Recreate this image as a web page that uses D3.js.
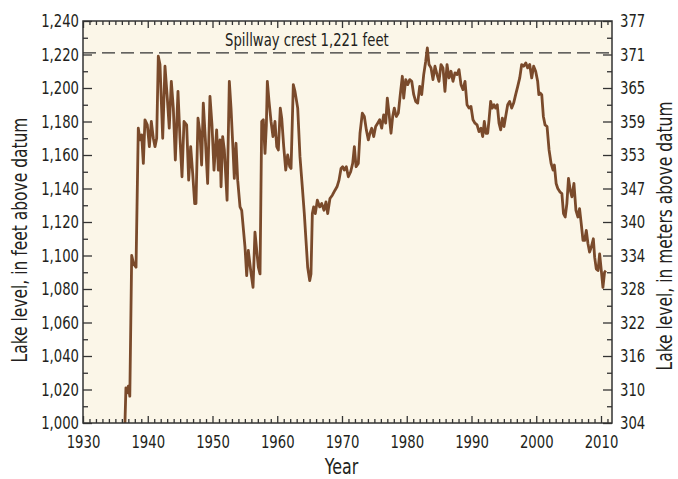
<!DOCTYPE html>
<html>
<head>
<meta charset="utf-8">
<script src="https://cdn.jsdelivr.net/npm/d3@7"></script>
<style>
  body { margin: 0; background: #fff; }
  svg text { font-family: "Liberation Sans Narrow", "DejaVu Sans Condensed", "DejaVu Sans", sans-serif; fill: #231f20; }
</style>
</head>
<body>
<svg id="chart" width="678" height="479"></svg>
<script>
// lake level readings, [year, feet above datum]
const lakeLevel = [
  [1936.48,1000],[1936.63,1021],[1936.83,1018],[1937.0,1022],[1937.23,1016],[1937.52,1100],[1937.82,1095],
  [1938.19,1093],[1938.54,1176],[1938.8,1169],[1939.06,1172],[1939.32,1155],[1939.57,1181],[1939.93,1178],
  [1940.25,1165],[1940.55,1180],[1940.86,1170],[1941.12,1165],[1941.38,1170],[1941.63,1219],[1941.89,1214],
  [1942.31,1170],[1942.66,1213],[1943.02,1194],[1943.32,1176],[1943.64,1204],[1943.95,1188],[1944.26,1157],
  [1944.67,1198],[1944.98,1170],[1945.29,1147],[1945.6,1180],[1946.01,1178],[1946.32,1145],[1946.63,1165],
  [1946.94,1149],[1947.25,1131],[1947.45,1131],[1947.76,1182],[1948.07,1173],[1948.32,1154],[1948.58,1191],
  [1948.89,1170],[1949.25,1143],[1949.61,1195],[1949.92,1178],[1950.23,1151],[1950.64,1175],[1950.9,1151],
  [1951.16,1169],[1951.32,1141],[1951.57,1171],[1951.83,1163],[1952.25,1133],[1952.6,1204],[1952.86,1188],
  [1953.17,1163],[1953.37,1146],[1953.63,1167],[1953.89,1145],[1954.25,1129],[1954.51,1127],[1955.02,1105],
  [1955.28,1088],[1955.53,1103],[1955.9,1091],[1956.26,1081],[1956.56,1114],[1956.83,1103],[1957.08,1093],
  [1957.34,1089],[1957.6,1180],[1957.85,1181],[1958.11,1161],[1958.32,1178],[1958.47,1204],[1958.73,1192],
  [1959.04,1180],[1959.34,1171],[1959.65,1180],[1959.92,1165],[1960.17,1163],[1960.47,1188],[1960.69,1182],
  [1961.0,1165],[1961.31,1151],[1961.61,1160],[1961.93,1153],[1962.13,1152],[1962.48,1202],[1962.74,1198],
  [1963.16,1188],[1963.51,1159],[1963.87,1141],[1964.18,1125],[1964.44,1109],[1964.7,1093],[1965.01,1085],
  [1965.21,1089],[1965.42,1125],[1965.62,1129],[1965.88,1125],[1966.19,1133],[1966.56,1129],[1966.87,1131],
  [1967.22,1127],[1967.53,1132],[1967.79,1125],[1968.14,1134],[1968.51,1136],[1968.92,1139],[1969.23,1141],
  [1969.54,1145],[1969.85,1152],[1970.1,1153],[1970.36,1151],[1970.67,1153],[1970.98,1147],[1971.34,1150],
  [1971.65,1155],[1971.91,1165],[1972.17,1153],[1972.52,1155],[1972.78,1173],[1973.14,1185],[1973.45,1183],
  [1973.76,1175],[1974.07,1169],[1974.32,1173],[1974.59,1176],[1974.9,1171],[1975.2,1177],[1975.51,1179],
  [1975.82,1181],[1976.13,1176],[1976.44,1184],[1976.75,1179],[1977.0,1194],[1977.26,1185],[1977.57,1173],
  [1977.83,1183],[1978.08,1188],[1978.39,1183],[1978.7,1185],[1979.0,1196],[1979.32,1207],[1979.53,1194],
  [1979.84,1205],[1980.15,1202],[1980.46,1205],[1980.77,1204],[1981.08,1196],[1981.38,1192],[1981.69,1191],
  [1982.0,1201],[1982.31,1196],[1982.62,1208],[1982.93,1216],[1983.18,1224],[1983.44,1214],[1983.75,1212],
  [1984.05,1205],[1984.36,1213],[1984.68,1208],[1984.98,1204],[1985.29,1214],[1985.6,1212],[1985.9,1198],
  [1986.22,1214],[1986.53,1206],[1986.84,1210],[1987.14,1204],[1987.45,1209],[1987.77,1208],[1988.07,1211],
  [1988.38,1202],[1988.69,1199],[1989.0,1204],[1989.31,1190],[1989.62,1188],[1989.92,1189],[1990.23,1181],
  [1990.54,1179],[1990.86,1178],[1991.16,1174],[1991.47,1176],[1991.73,1171],[1991.98,1180],[1992.24,1173],
  [1992.5,1173],[1992.71,1181],[1992.96,1192],[1993.21,1188],[1993.48,1190],[1993.73,1188],[1993.98,1190],
  [1994.25,1179],[1994.51,1175],[1994.76,1182],[1995.02,1177],[1995.28,1183],[1995.59,1190],[1995.89,1192],
  [1996.21,1188],[1996.51,1191],[1996.82,1196],[1997.14,1201],[1997.45,1206],[1997.75,1214],[1998.06,1213],
  [1998.38,1215],[1998.68,1212],[1998.99,1214],[1999.3,1206],[1999.6,1213],[1999.91,1210],[2000.22,1204],
  [2000.4,1196],[2000.6,1197],[2000.85,1196],[2001.1,1183],[2001.36,1178],[2001.67,1177],[2001.98,1163],
  [2002.29,1155],[2002.6,1151],[2002.8,1154],[2003.07,1143],[2003.33,1140],[2003.65,1138],[2003.96,1137],
  [2004.21,1125],[2004.47,1123],[2004.73,1131],[2004.98,1146],[2005.25,1139],[2005.51,1135],[2005.82,1143],
  [2006.13,1127],[2006.44,1123],[2006.69,1128],[2006.95,1119],[2007.22,1109],[2007.47,1109],[2007.73,1115],
  [2007.99,1107],[2008.24,1102],[2008.5,1105],[2008.82,1110],[2009.02,1099],[2009.27,1092],[2009.54,1091],
  [2009.79,1101],[2010.05,1091],[2010.3,1081],[2010.55,1090],[2010.75,1091]
];

const spillwayFeet = 1221;
const yearTicks = [1930, 1940, 1950, 1960, 1970, 1980, 1990, 2000, 2010];
const feetTicks = [1000, 1020, 1040, 1060, 1080, 1100, 1120, 1140, 1160, 1180, 1200, 1220, 1240];
const meterLabels = ["304", "310", "316", "322", "328", "334", "340", "347", "353", "359", "365", "371", "377"];

const plotLeft = 83, plotRight = 612, plotTop = 21, plotBottom = 423;

const svg = d3.select("#chart");

const x = d3.scaleLinear().domain([1930, 2011.7]).range([plotLeft, plotRight]);
const y = d3.scaleLinear().domain([1000, 1240]).range([plotBottom, plotTop]);

svg.append("rect")
  .attr("x", plotLeft).attr("y", plotTop)
  .attr("width", plotRight - plotLeft).attr("height", plotBottom - plotTop)
  .attr("fill", "#fbf6e8");

// minor ticks, every year / every 10 feet
const minorYears = d3.range(1930, 2012).filter(d => d % 10 != 0);
const minorFeet = d3.range(1010, 1240, 20);

function styleAxis(g) {
  g.select(".domain").remove();
  g.selectAll("line").attr("stroke", "#333").attr("stroke-width", 1.3);
  g.selectAll("text").attr("font-size", 17.5).attr("fill", "#231f20");
  return g;
}

svg.append("g").attr("transform", `translate(0,${plotBottom})`)
  .call(d3.axisBottom(x).tickValues(minorYears).tickSize(-4).tickFormat(""))
  .call(styleAxis);
svg.append("g").attr("transform", `translate(0,${plotBottom})`)
  .call(d3.axisBottom(x).tickValues(yearTicks).tickSize(-7).tickPadding(13).tickFormat(d3.format("d")))
  .call(styleAxis);

svg.append("g").attr("transform", `translate(0,${plotTop})`)
  .call(d3.axisTop(x).tickValues(minorYears).tickSize(-4).tickFormat(""))
  .call(styleAxis);
svg.append("g").attr("transform", `translate(0,${plotTop})`)
  .call(d3.axisTop(x).tickValues(yearTicks).tickSize(-7).tickFormat(""))
  .call(styleAxis);

svg.append("g").attr("transform", `translate(${plotLeft},0)`)
  .call(d3.axisLeft(y).tickValues(minorFeet).tickSize(-5).tickFormat(""))
  .call(styleAxis);
svg.append("g").attr("transform", `translate(${plotLeft},0)`)
  .call(d3.axisLeft(y).tickValues(feetTicks).tickSize(-9).tickPadding(4).tickFormat(d3.format(",")))
  .call(styleAxis);

svg.append("g").attr("transform", `translate(${plotRight},0)`)
  .call(d3.axisRight(y).tickValues(minorFeet).tickSize(-5).tickFormat(""))
  .call(styleAxis);
svg.append("g").attr("transform", `translate(${plotRight},0)`)
  .call(d3.axisRight(y).tickValues(feetTicks).tickSize(-9).tickPadding(8)
    .tickFormat((d, i) => meterLabels[i]))
  .call(styleAxis);

// spillway crest
svg.append("line")
  .attr("x1", plotLeft).attr("x2", plotRight)
  .attr("y1", y(spillwayFeet)).attr("y2", y(spillwayFeet))
  .attr("stroke", "#333").attr("stroke-width", 1.4)
  .attr("stroke-dasharray", "13,6");
svg.append("text")
  .attr("x", 225).attr("y", y(spillwayFeet) - 7)
  .attr("font-size", 17.5)
  .text("Spillway crest 1,221 feet");

const line = d3.line().x(d => x(d[0])).y(d => y(d[1]));
svg.append("path")
  .datum(lakeLevel)
  .attr("d", line)
  .attr("fill", "none")
  .attr("stroke", "#7a4a2b")
  .attr("stroke-width", 2.8)
  .attr("stroke-linejoin", "round");

svg.append("rect")
  .attr("x", plotLeft).attr("y", plotTop)
  .attr("width", plotRight - plotLeft).attr("height", plotBottom - plotTop)
  .attr("fill", "none").attr("stroke", "#333").attr("stroke-width", 1.5);

// axis titles
svg.append("text")
  .attr("transform", `translate(27,${(plotTop + plotBottom) / 2 + 18}) rotate(-90)`)
  .attr("text-anchor", "middle").attr("font-size", 20.5)
  .text("Lake level, in feet above datum");
svg.append("text")
  .attr("transform", `translate(672,${(plotTop + plotBottom) / 2 + 14}) rotate(-90)`)
  .attr("text-anchor", "middle").attr("font-size", 20.5)
  .text("Lake level, in meters above datum");
svg.append("text")
  .attr("x", (plotLeft + plotRight) / 2 - 6).attr("y", 474)
  .attr("text-anchor", "middle").attr("font-size", 21)
  .text("Year");

// the original lettering is a condensed face: squeeze each label horizontally
svg.selectAll("text").each(function() {
  const len = this.getComputedTextLength();
  if (len > 0) {
    d3.select(this).attr("textLength", len * 0.84).attr("lengthAdjust", "spacingAndGlyphs");
  }
});
</script>
</body>
</html>
